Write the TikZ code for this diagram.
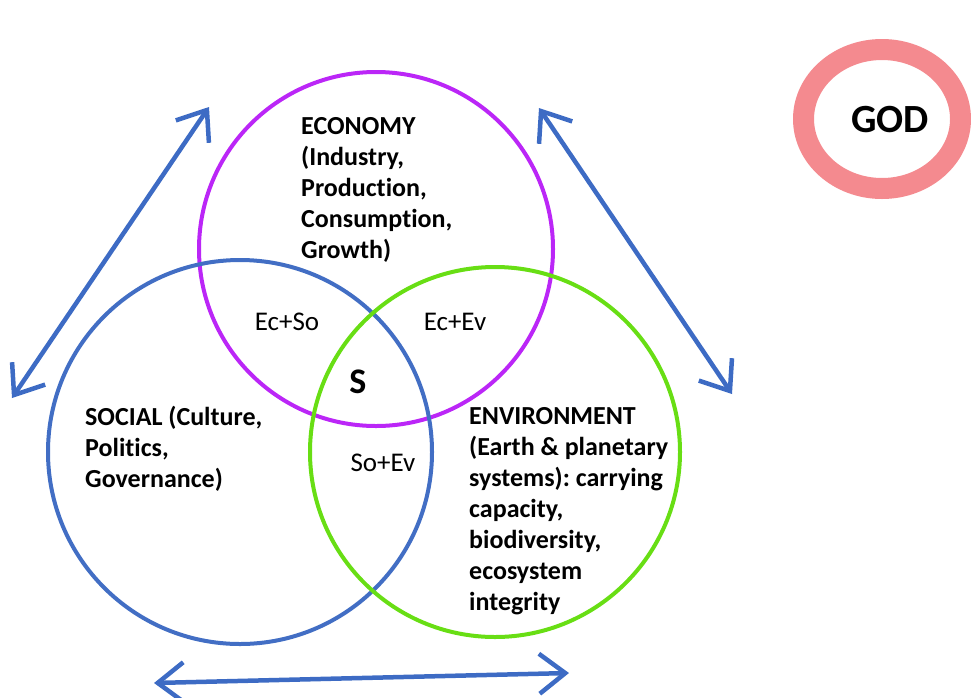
\documentclass[tikz,border=0pt]{standalone}
\usepackage{fontspec}
\setmainfont{Carlito}[Ligatures={NoCommon}]
\usetikzlibrary{arrows.meta,shapes.geometric}
\definecolor{ecocol}{RGB}{187,38,247}
\definecolor{soccol}{RGB}{66,110,196}
\definecolor{envcol}{RGB}{104,222,20}
\definecolor{godcol}{RGB}{244,138,143}
\definecolor{arrcol}{RGB}{61,107,196}
\frenchspacing
\begin{document}
\begin{tikzpicture}[x=1pt,y=-1pt,
  ring/.style={circle, draw, line width=4pt, inner sep=0pt},
  lab/.style={inner sep=0pt, align=left, anchor=base west, font=\fontsize{26}{31}\selectfont\bfseries},
  ov/.style={inner sep=0pt, font=\fontsize{27}{30}\selectfont},
  barb/.tip={Straight Barb[length=26pt,width=40pt]},
  dbl/.style={draw=arrcol, line width=4.5pt, line cap=round, line join=round, barb-barb}
]
\useasboundingbox (0,0) rectangle (971,697);
\node[ring, draw=ecocol, minimum size=354pt] (eco) at (376,249) {};
\node[ring, draw=soccol, minimum size=384pt] (soc) at (240,452) {};
\node[ring, draw=envcol, minimum size=370pt] (env) at (495,452) {};
\node[ellipse, draw=godcol, line width=21pt, minimum width=157pt, minimum height=139pt, inner sep=0pt] (godring) at (882,119) {};
\node[inner sep=0pt, font=\fontsize{40}{44}\selectfont\bfseries] (god) at (890,120) {GOD};

\coordinate (l1) at (12,398);
\coordinate (l2) at (209,107);
\coordinate (r1) at (539,108);
\coordinate (r2) at (732,394);
\coordinate (b1) at (154,683);
\coordinate (b2) at (569,673);
\draw[dbl] (l1) -- (l2);
\draw[dbl] (r1) -- (r2);
\draw[dbl] (b1) -- (b2);

\node[lab] (ecotxt) at (301,258) {ECONOMY\\(Industry,\\Production,\\Consumption,\\Growth)};
\node[lab] (soctxt) at (85,487) {SOCIAL (Culture,\\Politics,\\Governance)};
\node[lab] (envtxt) at (469,610) {ENVIRONMENT\\(Earth \& planetary\\systems): carrying\\capacity,\\biodiversity,\\ecosystem\\integrity};
\node[ov] (ecso) at (287,322) {Ec+So};
\node[ov] (ecev) at (455,322) {Ec+Ev};
\node[ov] (soev) at (383,463) {So+Ev};
\node[inner sep=0pt, font=\fontsize{36}{40}\selectfont\bfseries] (s) at (358,382) {S};
\end{tikzpicture}
\end{document}
